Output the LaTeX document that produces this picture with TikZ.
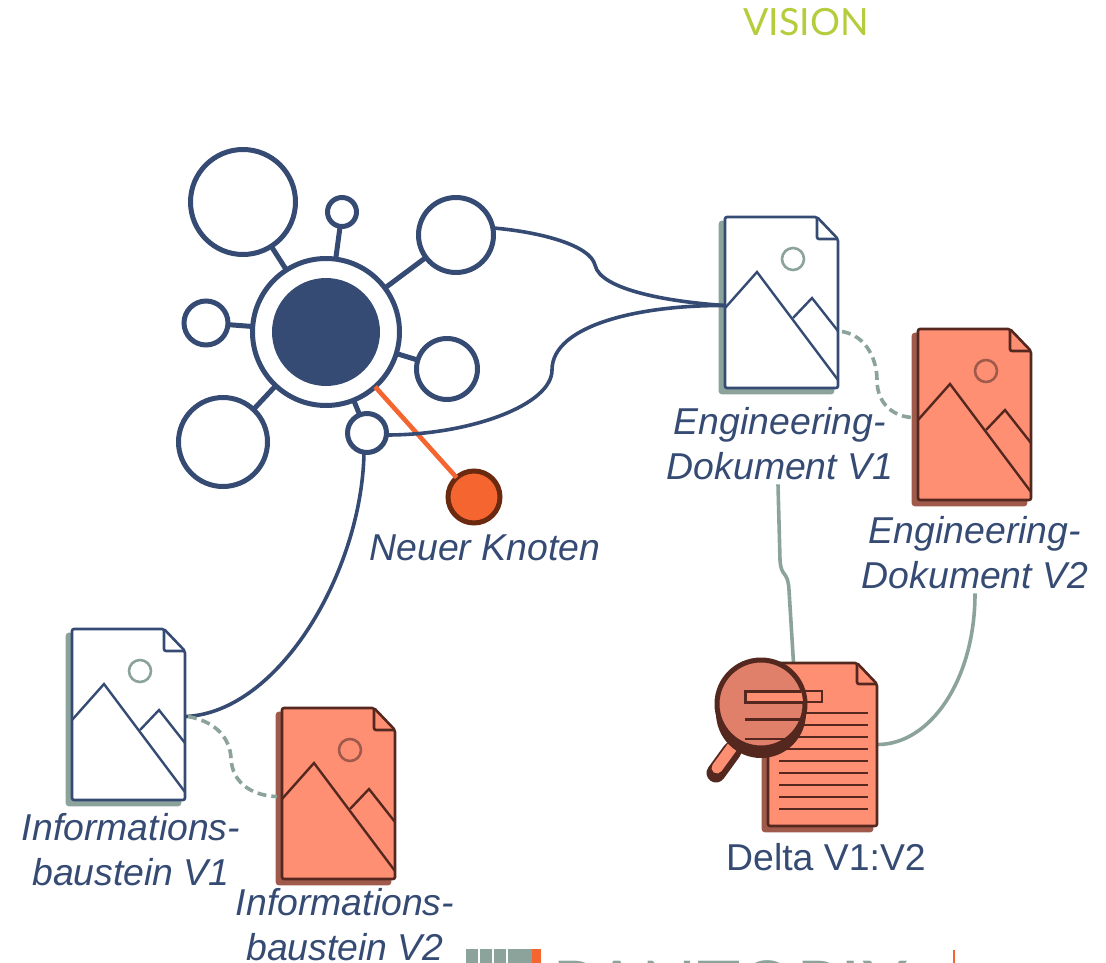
\documentclass[tikz,border=0pt]{standalone}
\usepackage{fontspec}
\setmainfont{Liberation Sans}
\newfontfamily\latofont{Lato}
\definecolor{navy}{HTML}{364B73}
\definecolor{sage}{HTML}{8CA39C}
\definecolor{salmon}{HTML}{FF8F73}
\definecolor{salmondark}{HTML}{E0806A}
\definecolor{rust}{HTML}{A05A4C}
\definecolor{umber}{HTML}{54281F}
\definecolor{signal}{HTML}{F46530}
\definecolor{signaldark}{HTML}{6B2A10}
\definecolor{lime}{HTML}{B5CC3C}
\tikzset{
  sat/.style={circle, draw=navy, line width=5pt, fill=white, inner sep=0pt, outer sep=0pt, minimum size=#1},
  spoke/.style={draw=navy, line width=5pt},
  link/.style={draw=navy, line width=3.6pt},
  greylink/.style={draw=sage, line width=3.6pt},
  dashlink/.style={draw=sage, line width=3.6pt, dash pattern=on 9pt off 5pt},
  lbl/.style={text=navy, align=center, inner sep=0pt, font=\fontsize{37.4}{45}\selectfont\itshape},
  pics/imgdoc/.style args={#1/#2/#3/#4}{code={
    \draw[fill=#3, draw=#3, line width=2.6pt, rounded corners=2pt, shift={(-5,5)}] (0,0)--(92,0)--(113,22)--(113,171)--(0,171)--cycle;
    \draw[fill=#2, draw=#1, line width=2.6pt, rounded corners=2pt] (0,0)--(92,0)--(113,22)--(113,171)--(0,171)--cycle;
    \draw[draw=#1, line width=2.6pt, rounded corners=2pt] (92,0)--(92,22)--(113,22);
    \draw[draw=#4, line width=2.6pt] (68,42) circle (11);
    \draw[draw=#1, line width=2.4pt] (0,91)--(32,55)--(113,163);
    \draw[draw=#1, line width=2.4pt] (68,101)--(87,81)--(113,114);
    \node[minimum width=113pt, minimum height=171pt, inner sep=0pt, outer sep=0pt] (-box) at (56.5,85.5) {};
  }}
}
\begin{document}
\begin{tikzpicture}[x=1pt, y=-1pt]
\useasboundingbox (0,0) rectangle (1106,963);

\node[text=lime, inner sep=0pt, font=\fontsize{37.5}{37.5}\selectfont\latofont] (vision) at (806,22) {VISION};

% network
\node[sat=147pt] (hub) at (326,332) {};
\node[circle, fill=navy, inner sep=0pt, minimum size=108pt] (core) at (326,332) {};
\node[sat=105pt] (bigA) at (243,202) {};
\node[sat=29pt] (smallA) at (342,212) {};
\node[sat=75pt] (topR) at (456,235) {};
\node[sat=44pt] (midL) at (206,323) {};
\node[sat=61pt] (midR) at (447,369) {};
\node[sat=89pt] (bigB) at (223,442) {};
\node[sat=39pt] (smallB) at (367,433) {};
\foreach \s in {bigA,smallA,topR,midL,midR,bigB,smallB}
{
    \draw[spoke] (hub)--(\s);
}
\node[circle, draw=signaldark, fill=signal, line width=5pt, inner sep=0pt, outer sep=0pt, minimum size=52pt] (neu) at (474,497) {};
\path[draw=signal, line width=4.6pt] (hub)--(neu);
\node[lbl] (neulbl) at (485,548) {Neuer Knoten};

% documents
\pic (dokA) at (725,217) {imgdoc=navy/white/sage/sage};
\pic (dokB) at (918,329) {imgdoc=umber/salmon/rust/rust};
\pic (infoA) at (72,629) {imgdoc=navy/white/sage/sage};
\pic (infoB) at (282,708) {imgdoc=umber/salmon/rust/rust};
\node[lbl] (dokAlbl) at (780,444) {Engineering-\\Dokument V1};
\node[lbl] (dokBlbl) at (975,553) {Engineering-\\Dokument V2};
\node[lbl] (infoAlbl) at (131,850) {Informations-\\baustein V1};
\node[lbl] (infoBlbl) at (345,925) {Informations-\\baustein V2};

% links
\draw[link] (topR.east) ++(0,-7) .. controls (540,232) and (590,245) .. (595,265)
    .. controls (600,290) and (670,302) .. ([yshift=-3pt]dokA-box.west);
\draw[link] (smallB.east) ++(0,2) .. controls (470,435) and (552,405) .. (552,370)
    .. controls (552,325) and (640,305) .. ([yshift=-3pt]dokA-box.west);
\draw[link] (smallB.south) ++(-3,0) .. controls (362,570) and (280,712) .. ([xshift=1pt,yshift=-2pt]infoA-box.east);
\draw[dashlink] ([xshift=4pt,yshift=-29pt]dokA-box.east) .. controls (868,336) and (877,362) .. (877,380)
    .. controls (877,405) and (895,417) .. ([xshift=-5pt,yshift=-3pt]dokB-box.west);
\draw[dashlink] ([xshift=3pt,yshift=-2pt]infoA-box.east) .. controls (218,722) and (230,740) .. (231,758)
    .. controls (232,785) and (255,796) .. ([xshift=-5pt,yshift=-3pt]infoB-box.west);

% delta
\node[minimum width=109pt, minimum height=163pt, inner sep=0pt, outer sep=0pt] (delta-box) at (822.5,744.5) {};
\draw[greylink] ([xshift=-2pt,yshift=-4pt]dokAlbl.south) -- (780,560) .. controls (781,578) and (788,570) .. (789,590) -- ([xshift=-29pt]delta-box.north);
\draw[greylink] ([yshift=-4pt]dokBlbl.south) .. controls (975,680) and (930,745) .. (delta-box.east);
\draw[fill=rust, draw=rust, line width=2.6pt, rounded corners=2pt] (763,668)--(852,668)--(872,689)--(872,831)--(763,831)--cycle;
\draw[fill=salmon, draw=umber, line width=2.6pt, rounded corners=2pt] (768,663)--(857,663)--(877,684)--(877,826)--(768,826)--cycle;
\draw[draw=umber, line width=2.6pt, rounded corners=2pt] (857,663)--(857,684)--(877,684);
\foreach \y in {713,725,...,809}
{
    \draw[umber, line width=2pt] (779,\y)--(868,\y);
}
\draw[umber, fill=salmon, line width=1.5pt] (745,691) rectangle (822,702);
\draw[umber, line width=19pt, line cap=round] (732,751)--(716,773);
\draw[salmon, line width=11pt, line cap=round] (733,746)--(717,768);
\fill[umber] (761,713) circle (45);
\node[circle, draw=umber, fill=salmondark, line width=5pt, inner sep=0pt, outer sep=0pt, minimum size=88pt] (lupe) at (761,704) {};
\begin{scope}
\clip (761,704) circle (42);
\draw[umber, fill=salmon, line width=3pt] (745,691) rectangle (822,702);
\draw[umber, line width=2.5pt] (745,719.5)--(810,719.5);
\draw[umber, line width=2.5pt] (745,739)--(810,739);
\end{scope}
\node[lbl, font=\fontsize{37.4}{45}\selectfont] (deltalbl) at (826,857) {Delta V1:V2};

% logo
\foreach \x in {466,480,494,508,520}
{
    \fill[sage] (\x,949) rectangle +(12,20);
}
\fill[signal] (532,949) rectangle (541,969);
\node[anchor=base west, inner sep=0pt, text=sage, font=\fontsize{73}{73}\selectfont\latofont] (logo) at (552,1013) {PANTOPIX};
\fill[signal] (952.5,950) rectangle (955,969);
\end{tikzpicture}
\end{document}
